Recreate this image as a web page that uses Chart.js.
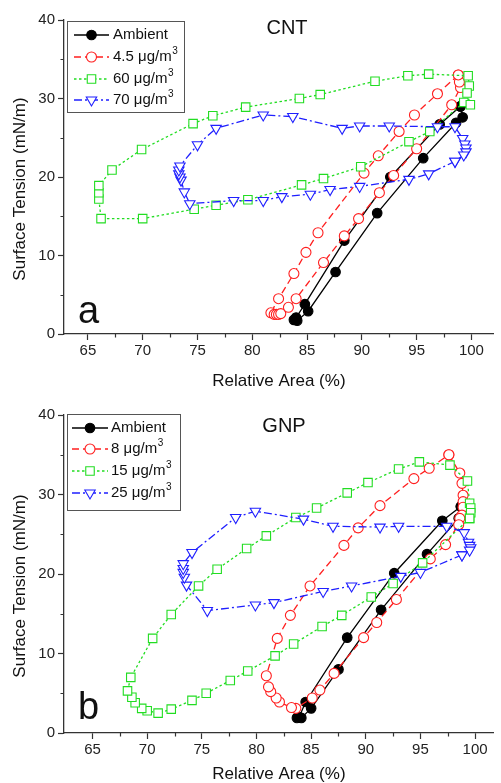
<!DOCTYPE html>
<html>
<head>
<meta charset="utf-8">
<script src="https://cdn.jsdelivr.net/npm/chart.js@4.4.0/dist/chart.umd.min.js"></script>
<style>
  body { margin: 0; background: #fff; }
  canvas { display: block; }
</style>
</head>
<body>
<div style="width:501px;height:391px"><canvas id="cntChart" width="501" height="391"></canvas></div>
<div style="width:501px;height:392px"><canvas id="gnpChart" width="501" height="392"></canvas></div>
<script>
// Datos: [área relativa (%), tensión superficial (mN/m)]
const cntLabels = ['Ambient', '4.5 μg/m³', '60 μg/m³', '70 μg/m³'];
const gnpLabels = ['Ambient', '8 μg/m³', '15 μg/m³', '25 μg/m³'];

const cntAmbient = [[99.0,29.0],[97.1,26.7],[92.6,20.0],[88.4,11.9],[84.8,3.8],[84.0,2.1],[83.8,1.8],[84.1,1.7],[85.1,2.9],[87.6,7.9],[91.4,15.4],[95.6,22.4],[98.6,26.9],[99.2,27.6],[99.0,29.0]];
const cnt45 = [[98.8,33.0],[96.9,30.6],[94.8,27.9],[93.4,25.8],[91.5,22.7],[90.2,20.5],[86.0,12.9],[84.9,10.4],[83.8,7.7],[82.4,4.5],[81.7,2.7],[82.0,2.5],[82.2,2.5],[82.4,2.5],[82.6,2.6],[83.3,3.4],[84.0,4.5],[86.5,9.1],[88.4,12.5],[89.7,14.7],[91.6,18.0],[92.9,20.2],[95.0,23.6],[98.2,29.2],[99.0,31.4],[98.9,32.1],[98.8,33.0]];
const cnt60 = [[99.3,29.5],[96.2,25.8],[94.3,24.5],[89.9,21.3],[86.5,19.8],[84.5,19.0],[79.6,17.1],[76.7,16.4],[74.7,15.9],[70.0,14.7],[66.2,14.7],[66.0,17.2],[66.0,18.0],[66.0,18.9],[67.2,20.9],[69.9,23.5],[74.6,26.8],[76.4,27.8],[79.4,28.9],[84.3,30.0],[86.2,30.5],[91.2,32.2],[94.2,32.9],[96.1,33.1],[99.7,32.9],[99.8,31.6],[99.6,30.7],[99.9,29.2]];
const cnt70 = [[98.5,22.0],[96.1,20.4],[94.3,19.7],[89.8,18.8],[87.1,18.4],[85.3,17.8],[82.7,17.5],[81.0,17.0],[78.3,17.0],[74.3,16.6],[73.8,18.1],[73.5,19.6],[73.4,20.0],[73.3,20.4],[73.3,20.9],[73.4,21.4],[75.0,24.1],[76.7,26.2],[81.0,27.9],[83.7,27.7],[88.2,26.2],[89.8,26.5],[92.5,26.5],[96.9,26.4],[98.5,26.4],[99.2,24.9],[99.4,24.2],[99.5,23.7],[99.5,23.2],[99.3,22.8],[98.5,22.0]];

const gnpAmbient = [[98.7,28.5],[97.0,26.7],[92.6,20.1],[88.3,12.0],[84.5,3.9],[83.9,2.0],[83.7,1.9],[84.1,1.9],[85.0,3.1],[87.5,8.0],[91.4,15.5],[95.6,22.5],[98.5,27.0],[98.7,28.5]];
const gnp8 = [[97.6,35.0],[98.6,32.7],[98.8,31.4],[98.9,29.9],[98.9,29.1],[98.9,28.4],[98.8,27.4],[98.6,27.0],[98.5,26.2],[97.3,23.7],[95.9,21.9],[92.8,16.8],[91.0,13.9],[89.8,12.0],[87.1,7.5],[85.8,5.4],[85.1,4.4],[83.6,3.1],[83.2,3.2],[82.1,3.9],[81.8,4.4],[81.3,5.2],[81.1,5.8],[80.9,7.2],[81.9,11.9],[83.1,14.8],[84.9,18.5],[88.0,23.6],[89.3,25.8],[91.3,28.6],[94.4,32.0],[95.8,33.3],[97.6,35.0]];
const gnp15 = [[99.5,27.0],[95.2,21.4],[92.5,18.8],[90.5,17.1],[87.8,14.8],[86.0,13.4],[83.4,11.2],[81.7,9.7],[79.2,7.8],[77.6,6.6],[75.4,5.0],[74.1,4.1],[72.2,3.0],[71.0,2.5],[70.0,2.8],[69.5,3.1],[68.9,3.8],[68.6,4.5],[68.2,5.3],[68.5,7.0],[70.5,11.9],[72.2,14.9],[74.7,18.5],[76.4,20.6],[79.1,23.2],[80.9,24.8],[83.6,27.1],[85.5,28.3],[88.3,30.2],[90.2,31.5],[93.0,33.2],[94.9,34.1],[97.7,33.7],[99.3,31.7],[99.5,28.9],[99.6,28.3],[99.6,27.7],[99.5,27.0]];
const gnp25 = [[98.8,22.4],[95.0,20.2],[93.2,19.7],[88.7,18.5],[86.1,17.8],[81.6,16.4],[79.9,16.1],[75.5,15.4],[73.6,18.6],[73.4,19.6],[73.3,20.2],[73.3,20.7],[73.3,21.3],[74.1,22.7],[78.1,27.1],[79.9,27.9],[84.3,26.9],[87.0,26.0],[91.3,25.9],[93.0,26.0],[97.4,26.0],[99.0,25.2],[99.4,24.0],[99.5,23.6],[99.6,23.3],[99.5,23.0],[98.8,22.4]];

const yTicks = [0, 10, 20, 30, 40];
const xTicks = [65, 70, 75, 80, 85, 90, 95, 100];

// Estilos de cada serie (mismo orden que las etiquetas)
const estilos = [
  { color: '#000000', fill: '#000000', pointStyle: 'circle', radius: 4.8, dash: [], rotation: 0 },
  { color: '#ff1f1f', fill: '#ffffff', pointStyle: 'circle', radius: 5, dash: [7, 4], rotation: 0 },
  { color: '#22dd22', fill: '#ffffff', pointStyle: 'rect', radius: 6, dash: [2.5, 2.5], rotation: 0 },
  { color: '#1f1fff', fill: '#ffffff', pointStyle: 'triangle', radius: 6, dash: [8, 3, 2, 3], rotation: 180 }
];

const fuente = "'Liberation Sans', Arial, sans-serif";
const colorEje = '#333333';

function crearDatasets(series, labels) {
  return series.map((s, i) => ({
    label: labels[i],
    data: s.map(p => ({ x: p[0], y: p[1] })),
    showLine: true,
    tension: 0,
    borderColor: estilos[i].color,
    borderWidth: 1.3,
    borderDash: estilos[i].dash,
    pointStyle: estilos[i].pointStyle,
    pointRotation: estilos[i].rotation,
    pointRadius: estilos[i].radius,
    pointBorderWidth: 1.1,
    pointBorderColor: estilos[i].color,
    pointBackgroundColor: estilos[i].fill,
    order: 3 - i
  }));
}

// Dibuja ticks menores, títulos, leyenda y letra del panel
function panelPlugin(cfg) {
  return {
    id: 'panel',
    afterDraw(chart) {
      const ctx = chart.ctx;
      const area = chart.chartArea;
      const xs = chart.scales.x;
      const ys = chart.scales.y;
      ctx.save();

      // ticks menores
      ctx.strokeStyle = colorEje;
      ctx.lineWidth = 1.2;
      ctx.setLineDash([]);
      ctx.beginPath();
      for (let v = 67.5; v < xs.max; v += 5) {
        const p = Math.round(xs.getPixelForValue(v)) + 0.5;
        ctx.moveTo(p, area.bottom);
        ctx.lineTo(p, area.bottom + 3.5);
      }
      for (let v = 5; v < ys.max; v += 10) {
        const p = Math.round(ys.getPixelForValue(v)) + 0.5;
        ctx.moveTo(area.left, p);
        ctx.lineTo(area.left - 3.5, p);
      }
      ctx.stroke();

      ctx.fillStyle = '#111';
      // título del panel
      ctx.font = '20px ' + fuente;
      ctx.textAlign = 'center';
      ctx.textBaseline = 'middle';
      ctx.fillText(cfg.title, cfg.titleX, cfg.titleY);

      // títulos de ejes
      ctx.font = '17px ' + fuente;
      ctx.fillText('Relative Area (%)', (area.left + area.right) / 2, cfg.xTitleY);
      ctx.save();
      ctx.translate(20, (area.top + area.bottom) / 2 + 12);
      ctx.rotate(-Math.PI / 2);
      ctx.fillText('Surface Tension (mN/m)', 0, 0);
      ctx.restore();

      // letra a / b
      ctx.font = '38px ' + fuente;
      ctx.textAlign = 'left';
      ctx.textBaseline = 'alphabetic';
      ctx.fillText(cfg.letter, 78, cfg.letterY);

      // leyenda
      const lg = cfg.legend;
      ctx.strokeStyle = '#555';
      ctx.lineWidth = 1;
      ctx.strokeRect(lg.x + 0.5, lg.y + 0.5, lg.w, lg.h);
      cfg.labels.forEach((txt, i) => {
        const st = estilos[i];
        const y = lg.rows[i];
        ctx.strokeStyle = st.color;
        ctx.lineWidth = 1.3;
        ctx.setLineDash(st.dash);
        ctx.beginPath();
        ctx.moveTo(lg.lineX1, y);
        ctx.lineTo(lg.lineX2, y);
        ctx.stroke();
        ctx.setLineDash([]);
        ctx.fillStyle = st.fill;
        ctx.lineWidth = 1.1;
        Chart.helpers.drawPoint(ctx, {
          pointStyle: st.pointStyle, rotation: st.rotation, radius: st.radius, borderWidth: 1.1
        }, (lg.lineX1 + lg.lineX2) / 2, y);

        ctx.fillStyle = '#111';
        ctx.textBaseline = 'middle';
        ctx.textAlign = 'left';
        ctx.font = '15px ' + fuente;
        if (txt.endsWith('³')) {
          const base = txt.slice(0, -1);
          ctx.fillText(base, lg.textX, y);
          const w = ctx.measureText(base).width;
          ctx.font = '10px ' + fuente;
          ctx.fillText('3', lg.textX + w + 0.5, y - 6);
        } else {
          ctx.fillText(txt, lg.textX, y);
        }
      });
      ctx.restore();
    }
  };
}

function crearGrafico(id, series, labels, xMin, xMax, padTop, ejeXAlto, cfg) {
  const ctx = document.getElementById(id).getContext('2d');
  return new Chart(ctx, {
    type: 'scatter',
    data: { datasets: crearDatasets(series, labels) },
    options: {
      responsive: false,
      animation: false,
      layout: { padding: { top: padTop, right: 0, left: 0, bottom: 0 } },
      plugins: { legend: { display: false }, tooltip: { enabled: false } },
      scales: {
        x: {
          type: 'linear',
          min: xMin,
          max: xMax,
          afterBuildTicks: (scale) => { scale.ticks = xTicks.map(v => ({ value: v })); },
          afterFit: (scale) => { scale.height = ejeXAlto; },
          ticks: { color: '#222', font: { family: fuente, size: 15 }, padding: 2, maxRotation: 0 },
          grid: { drawOnChartArea: false, drawTicks: true, tickLength: 6, tickColor: colorEje, tickWidth: 1.2 },
          border: { display: true, color: colorEje, width: 1.3 }
        },
        y: {
          type: 'linear',
          min: 0,
          max: 40,
          afterBuildTicks: (scale) => { scale.ticks = yTicks.map(v => ({ value: v })); },
          afterFit: (scale) => { scale.width = 64; },
          ticks: { color: '#222', font: { family: fuente, size: 15 }, padding: 3 },
          grid: { drawOnChartArea: false, drawTicks: true, tickLength: 6, tickColor: colorEje, tickWidth: 1.2 },
          border: { display: true, color: colorEje, width: 1.3 }
        }
      }
    },
    plugins: [panelPlugin(cfg)]
  });
}

crearGrafico('cntChart', [cntAmbient, cnt45, cnt60, cnt70], cntLabels, 62.82, 102.05, 20, 57, {
  title: 'CNT', titleX: 287, titleY: 28, xTitleY: 381, letter: 'a', letterY: 323,
  labels: cntLabels,
  legend: { x: 67, y: 21, w: 117, h: 91, rows: [35, 57, 79, 100], lineX1: 74, lineX2: 109, textX: 113 }
});

crearGrafico('gnpChart', [gnpAmbient, gnp8, gnp15, gnp25], gnpLabels, 62.39, 101.72, 24, 50, {
  title: 'GNP', titleX: 284, titleY: 35, xTitleY: 383, letter: 'b', letterY: 328,
  labels: gnpLabels,
  legend: { x: 67, y: 23, w: 113, h: 96, rows: [37, 58, 80, 102], lineX1: 72, lineX2: 108, textX: 111 }
});
</script>
</body>
</html>
